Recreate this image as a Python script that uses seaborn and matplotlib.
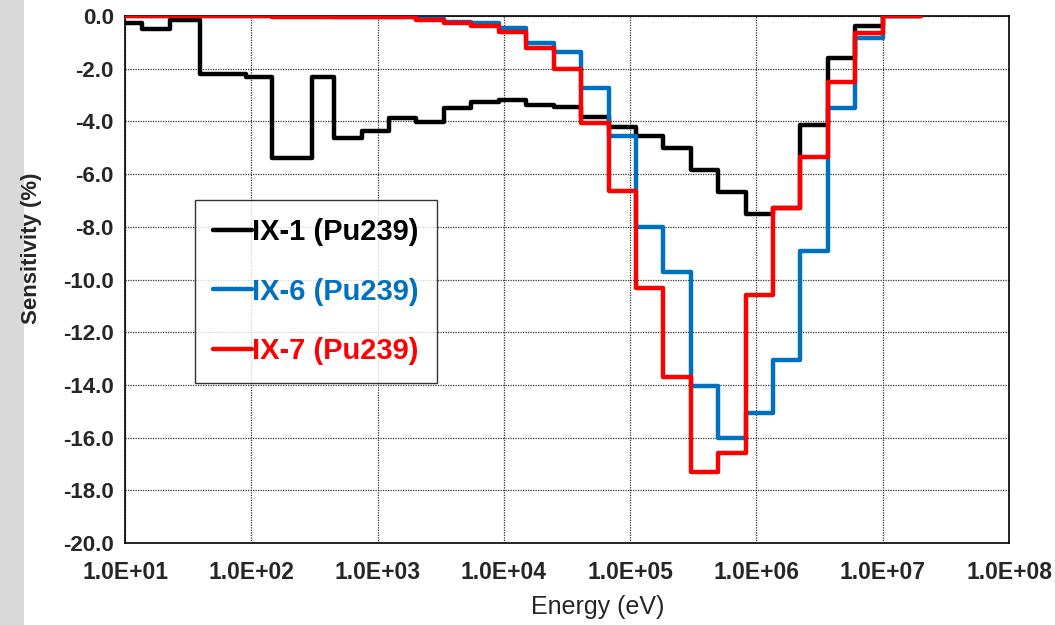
import numpy as np
import pandas as pd
import matplotlib
matplotlib.use("Agg")
import matplotlib.pyplot as plt
from matplotlib.ticker import FuncFormatter, MultipleLocator, LogLocator, NullFormatter
from matplotlib.lines import Line2D
import seaborn as sns

# Energy group boundaries (eV), low to high
energy_bounds = [10, 13.7, 22.6, 39, 91, 146, 300, 454, 748, 1230, 2030, 3350,
                 5530, 9120, 15000, 24800, 40900, 67400, 111000, 183000, 302000,
                 498000, 821000, 1.35e6, 2.23e6, 3.68e6, 6.07e6, 1.0e7, 2.0e7]

# Group-wise sensitivity (%) for each case, one value per group
ix1_pu239 = [-0.25, -0.49, -0.16, -2.21, -2.30, -5.40, -2.30, -4.62, -4.35, -3.88,
             -4.02, -3.50, -3.26, -3.20, -3.38, -3.44, -3.85, -4.22, -4.57, -5.02,
             -5.84, -6.69, -7.53, -7.28, -4.14, -1.58, -0.38, 0.0]
ix6_pu239 = [0.0, 0.0, 0.0, -0.01, -0.01, -0.01, -0.01, -0.02, -0.02, -0.03,
             -0.10, -0.22, -0.28, -0.47, -1.01, -1.35, -2.72, -4.57, -8.00, -9.73,
             -14.03, -16.00, -15.06, -13.06, -8.91, -3.48, -0.82, 0.0]
ix7_pu239 = [0.0, 0.0, 0.0, -0.01, -0.01, -0.02, -0.02, -0.03, -0.04, -0.05,
             -0.15, -0.25, -0.38, -0.60, -1.23, -2.02, -4.05, -6.63, -10.33, -13.69,
             -17.29, -16.60, -10.59, -7.28, -5.36, -2.49, -0.63, 0.0]

case_names = ["IX-1 (Pu239)", "IX-6 (Pu239)", "IX-7 (Pu239)"]
case_colors = ["#000000", "#0070C0", "#FF0000"]

x_ticks = [1e1, 1e2, 1e3, 1e4, 1e5, 1e6, 1e7, 1e8]

rows = []
for name, vals in zip(case_names, [ix1_pu239, ix6_pu239, ix7_pu239]):
    ys = list(vals) + [vals[-1]]
    for e, s in zip(energy_bounds, ys):
        rows.append({"Energy": e, "Sensitivity": s, "Case": name})
df = pd.DataFrame(rows)

sns.set_theme(style="white")
plt.rcParams["font.family"] = ["Liberation Sans", "DejaVu Sans"]

fig = plt.figure(figsize=(10.55, 6.25), dpi=100)
fig.patch.set_facecolor("white")
# grey strip along the left edge
fig.patches.append(plt.Rectangle((0, 0), 24 / 1055, 1, transform=fig.transFigure,
                                 facecolor="#d9d9d9", edgecolor="none", zorder=0))

ax = fig.add_axes([125 / 1055, 1 - 543 / 625, (1009 - 125) / 1055, (543 - 16) / 625])

sns.lineplot(data=df, x="Energy", y="Sensitivity", hue="Case", hue_order=case_names,
             palette=case_colors, drawstyle="steps-post", estimator=None, sort=False,
             linewidth=3.2, legend=False, ax=ax, zorder=3)

ax.set_xscale("log")
ax.set_xlim(1e1, 1e8)
ax.set_ylim(-20, 0)

ax.set_xticks(x_ticks)
ax.xaxis.set_major_formatter(FuncFormatter(lambda v, p: f"{v:.1E}"))
ax.xaxis.set_minor_locator(LogLocator(base=10, subs=np.arange(2, 10), numticks=100))
ax.xaxis.set_minor_formatter(NullFormatter())
ax.yaxis.set_major_locator(MultipleLocator(2))
ax.yaxis.set_minor_locator(MultipleLocator(0.4))
ax.yaxis.set_major_formatter(FuncFormatter(lambda v, p: f"{v:.1f}" if abs(v) > 1e-9 else "0.0"))

ax.tick_params(axis="both", which="major", direction="in", length=0, width=1)
ax.tick_params(axis="x", which="major", pad=13, labelsize=16.5)
ax.tick_params(axis="y", which="major", pad=8, labelsize=16)
ax.tick_params(axis="both", which="minor", direction="in", length=5, width=1, color="black")
for lab in ax.get_xticklabels() + ax.get_yticklabels():
    lab.set_fontweight("bold")

ax.grid(True, which="major", color="#333333", linestyle=(0, (1, 1)), linewidth=0.9)
for sp in ax.spines.values():
    sp.set_color("black")
    sp.set_linewidth(1.2)

ax.set_xlabel("")
ax.set_ylabel("")
fig.text(598 / 1055, 1 - 607 / 625, "Energy (eV)", ha="center", va="center", fontsize=18)
fig.text(32 / 1055, 1 - 248 / 625, "Sensitivity (%)", ha="center", va="center",
         rotation=90, fontsize=16, fontweight="bold")

handles = [Line2D([0], [0], color=c, lw=3.2) for c in case_colors]
leg = fig.legend(handles, case_names, loc="upper left",
                 bbox_to_anchor=(195 / 1055, 1 - 200 / 625), frameon=True, fancybox=False,
                 fontsize=21, handlelength=1.35, handletextpad=0.0, labelspacing=1.08,
                 borderpad=0.62, borderaxespad=0)
leg.get_frame().set_edgecolor("black")
leg.get_frame().set_linewidth(1.0)
for txt, c in zip(leg.get_texts(), case_colors):
    txt.set_color(c)
    txt.set_fontweight("bold")

fig.savefig("out.png", dpi=100)
